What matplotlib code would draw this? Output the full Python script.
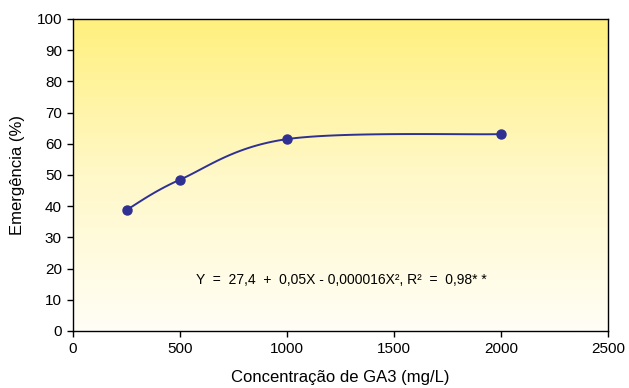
import numpy as np
import matplotlib
matplotlib.use('Agg')
import matplotlib.pyplot as plt
from matplotlib.colors import LinearSegmentedColormap

plt.rcParams['font.family'] = ['Liberation Sans', 'DejaVu Sans']

# data
dose = [250, 500, 1000, 2000]
emerg = [38.8, 48.5, 61.5, 63.1]
xticks = [0, 500, 1000, 1500, 2000, 2500]
yticks = list(range(0, 101, 10))
eq_text = 'Y  =  27,4  +  0,05X - 0,000016X², R²  =  0,98* *'

LINE = '#2e3192'

def smooth(xs, ys, w, h, n=40):
    ''' Excel-like smoothed line (Catmull-Rom as Bezier), done in pixel space '''
    px = np.array(xs) / 2500.0 * w
    py = np.array(ys) / 100.0 * h
    P = np.column_stack([px, py])
    P = np.vstack([P[0], P, P[-1]])
    out = []
    t = np.linspace(0, 1, n)[:, None]
    for i in range(1, len(P) - 2):
        p0, p1, p2, p3 = P[i - 1], P[i], P[i + 1], P[i + 2]
        c1 = p1 + (p2 - p0) / 6.0
        c2 = p2 - (p3 - p1) / 6.0
        seg = ((1 - t) ** 3) * p1 + 3 * ((1 - t) ** 2) * t * c1 + 3 * (1 - t) * t ** 2 * c2 + t ** 3 * p2
        out.append(seg)
    out = np.vstack(out)
    return out[:, 0] / w * 2500.0, out[:, 1] / h * 100.0

fig = plt.figure(figsize=(6.29, 3.88), dpi=100)
ax = fig.add_axes([73 / 629, 1 - 331 / 388, (608 - 73) / 629, (331 - 19) / 388])

# yellow-to-white gradient background
cmap = LinearSegmentedColormap.from_list('yw', ['#fffef6', '#fff8c8', '#fff07e'])
grad = np.linspace(0, 1, 256)[:, None]
ax.imshow(grad, aspect='auto', cmap=cmap, origin='lower',
          extent=[0, 2500, 0, 100], zorder=0)

sx, sy = smooth(dose, emerg, 535, 312)
ax.plot(sx, sy, color=LINE, lw=1.4, zorder=2)
ax.plot(dose, emerg, 'o', color=LINE, ms=6.5, zorder=3)

ax.set_xlim(0, 2500)
ax.set_ylim(0, 100)
ax.set_xticks(xticks)
ax.set_yticks(yticks)
ax.tick_params(direction='out', length=4, width=1, labelsize=11, colors='black', pad=4)
ax.tick_params(top=False, right=False)
for s in ax.spines.values():
    s.set_linewidth(1)

ax.set_xlabel('Concentração de GA3 (mg/L)', fontsize=12, labelpad=10)
ax.set_ylabel('Emergência (%)', fontsize=12, labelpad=8)

ax.text(1252, 16.3, eq_text, fontsize=10, ha='center', va='center')

fig.savefig('out.png', dpi=100)
